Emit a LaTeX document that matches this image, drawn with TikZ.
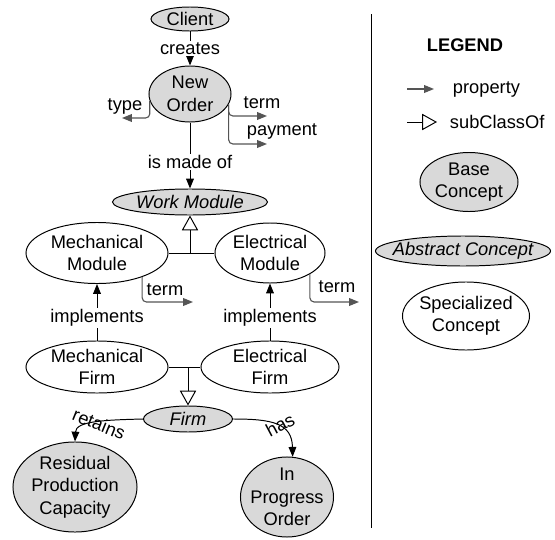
\documentclass[tikz,border=0pt]{standalone}
\usepackage{fontspec}
\setmainfont{Liberation Sans}
\usepackage{xcolor}
\usepackage{tikz}
\usetikzlibrary{shapes.geometric, arrows.meta, positioning}
\definecolor{conceptgray}{HTML}{D9D9D9}
\definecolor{propgray}{HTML}{555555}

\begin{document}
\begin{tikzpicture}[x=0.025cm, y=-0.025cm,
    font=\fontsize{13}{16}\selectfont,
    concept/.style={draw, ellipse, line width=0.7pt, inner sep=0pt, align=center},
    base/.style={concept, fill=conceptgray},
    abstract/.style={concept, fill=conceptgray, font=\fontsize{13}{16}\selectfont\itshape},
    special/.style={concept, fill=white},
    rel/.style={line width=0.7pt, -{Triangle[length=7pt, width=5.5pt]}},
    prop/.style={line width=0.8pt, draw=propgray, rounded corners=3pt, -{Triangle[length=7pt, width=5.5pt]}},
    sub/.style={line width=0.7pt, -{Triangle[open, length=10.5pt, width=11.5pt]}},
    lbl/.style={fill=white, inner sep=1pt}
]
\useasboundingbox (0,0) rectangle (555,540);

\node[base, minimum width=1.95cm, minimum height=0.6cm] (client) at (190,19) {Client};
\node[base, minimum width=2.05cm, minimum height=1.4cm] (newOrder) at (190,94) {New\\Order};
\node[abstract, minimum width=3.875cm, minimum height=0.65cm] (workModule) at (190,202) {Work Module};
\node[special, minimum width=3.55cm, minimum height=1.525cm] (mechModule) at (97,253) {Mechanical\\Module};
\node[special, minimum width=2.75cm, minimum height=1.5cm] (elecModule) at (270,253) {Electrical\\Module};
\node[special, minimum width=3.55cm, minimum height=1.3cm] (mechFirm) at (97,367) {Mechanical\\Firm};
\node[special, minimum width=3.45cm, minimum height=1.3cm] (elecFirm) at (270,367) {Electrical\\Firm};
\node[abstract, minimum width=2.225cm, minimum height=0.65cm] (firm) at (188,419) {Firm};
\node[base, minimum width=3.1cm, minimum height=2.25cm, inner sep=-1pt] (residual) at (75,487) {Residual\\Production\\Capacity};
\node[base, minimum width=2.325cm, minimum height=2cm, inner xsep=-3.5pt, inner ysep=-1pt] (inProgress) at (287,497) {In\\Progress\\Order};

\coordinate (typeEnd) at (122,118);
\coordinate (termEnd) at (267,116);
\coordinate (payEnd) at (267,144);
\coordinate (mTermEnd) at (193,302);
\coordinate (eTermEnd) at (359,302);
\coordinate (modJoin) at (190,253);
\coordinate (firmJoin) at (188,367);

\draw[rel] (client) -- node[lbl] (creates) {creates} (newOrder);
\draw[rel] (newOrder) -- node[lbl, pos=0.6] (madeOf) {is made of} (workModule);
\draw[prop] (newOrder.190) |- (typeEnd);
\draw[prop] (newOrder.-15) |- (termEnd);
\draw[prop] (newOrder.-15) |- (payEnd);
\node (typeLbl) at (125,106) {type};
\node (termLbl) at (262,103) {term};
\node (payLbl) at (282,131) {payment};

\draw[line width=0.7pt] (mechModule) -- (elecModule);
\draw[sub] (modJoin) -- (workModule);
\draw[prop] (mechModule.-28) |- (mTermEnd);
\draw[prop] (elecModule.-28) |- (eTermEnd);
\node (mTermLbl) at (165,290) {term};
\node (eTermLbl) at (337,287) {term};

\draw[rel] (mechFirm) -- node[lbl, pos=0.4] (mechImpl) {implements} (mechModule);
\draw[rel] (elecFirm) -- node[lbl, pos=0.4] (elecImpl) {implements} (elecModule);

\draw[line width=0.7pt] (mechFirm) -- (elecFirm);
\draw[sub] (firmJoin) -- (firm);

\draw[rel] (firm.west) .. controls (105,420) and (76,421) .. (residual.north);
\node[rotate=-22] (retainsLbl) at (99,424) {retains};
\draw[rel] (firm.east) .. controls (272,419) and (292,423) .. (inProgress.82);
\node[rotate=28] (hasLbl) at (280,425) {has};

% legend
\coordinate (sepTop) at (371,14);
\coordinate (sepBot) at (371,528);
\draw[line width=0.7pt] (sepTop) -- (sepBot);
\node[font=\fontsize{13}{16}\selectfont\bfseries] (legend) at (465,45) {LEGEND};
\coordinate (propA) at (407,89);
\coordinate (propB) at (434,89);
\draw[prop] (propA) -- (propB);
\node[anchor=west] (propText) at (448,89) {property};
\coordinate (subA) at (407,122);
\coordinate (subB) at (437,122);
\draw[sub] (subA) -- (subB);
\node[anchor=west] (subText) at (445,122) {subClassOf};
\node[base, minimum width=2.45cm, minimum height=1.475cm] (baseKey) at (469,182) {Base\\Concept};
\node[abstract, minimum width=4.375cm, minimum height=0.75cm, inner xsep=-7pt] (abstractKey) at (463,251) {Abstract Concept};
\node[special, minimum width=3.175cm, minimum height=1.7cm, inner xsep=-2pt] (specialKey) at (466,316) {Specialized\\Concept};
\end{tikzpicture}
\end{document}
